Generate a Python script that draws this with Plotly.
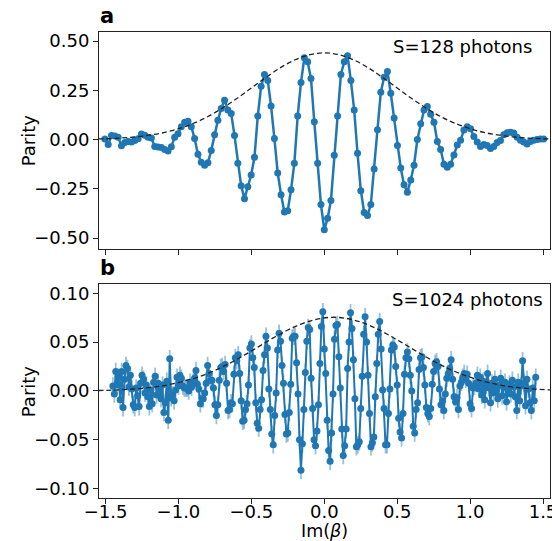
import plotly.graph_objects as go

# ---------------- data ----------------
x_top = [-1.5048, -1.482, -1.4592, -1.4364, -1.4136, -1.3908, -1.368, -1.3452, -1.3224, -1.2996,
         -1.2768, -1.254, -1.2312, -1.2084, -1.1856, -1.1628, -1.14, -1.1172, -1.0944, -1.0716,
         -1.0488, -1.026, -1.0032, -0.9804, -0.9576, -0.9348, -0.912, -0.8892, -0.8664, -0.8436,
         -0.8208, -0.798, -0.7752, -0.7524, -0.7296, -0.7068, -0.684, -0.6612, -0.6384, -0.6156,
         -0.5928, -0.57, -0.5472, -0.5244, -0.5016, -0.4788, -0.456, -0.4332, -0.4104, -0.3876,
         -0.3648, -0.342, -0.3192, -0.2964, -0.2736, -0.2508, -0.228, -0.2052, -0.1824, -0.1596,
         -0.1368, -0.114, -0.0912, -0.0684, -0.0456, -0.0228, 0.0,
         0.0228, 0.0456, 0.0684, 0.0912, 0.114, 0.1368, 0.1596, 0.1824, 0.2052, 0.228,
         0.2508, 0.2736, 0.2964, 0.3192, 0.342, 0.3648, 0.3876, 0.4104, 0.4332, 0.456,
         0.4788, 0.5016, 0.5244, 0.5472, 0.57, 0.5928, 0.6156, 0.6384, 0.6612, 0.684,
         0.7068, 0.7296, 0.7524, 0.7752, 0.798, 0.8208, 0.8436, 0.8664, 0.8892, 0.912,
         0.9348, 0.9576, 0.9804, 1.0032, 1.026, 1.0488, 1.0716, 1.0944, 1.1172, 1.14,
         1.1628, 1.1856, 1.2084, 1.2312, 1.254, 1.2768, 1.2996, 1.3224, 1.3452, 1.368,
         1.3908, 1.4136, 1.4364, 1.4592, 1.482, 1.5048]

parity_top = [0.003, -0.025, 0.020, 0.018, 0.012, -0.032, -0.015, -0.010, -0.012, -0.005,
              0.004, 0.028, 0.022, 0.012, 0.008, -0.035, -0.038, -0.040, -0.050, -0.058,
              -0.036, 0.012, 0.030, 0.065, 0.088, 0.093, 0.065, 0.005, -0.075, -0.115,
              -0.130, -0.118, -0.055, 0.025, 0.098, 0.158, 0.200, 0.150, 0.132, 0.020,
              -0.120, -0.235, -0.300, -0.240, -0.180, -0.090, 0.120, 0.270, 0.330, 0.300,
              0.170, 0.005, -0.170, -0.280, -0.368, -0.362, -0.255, -0.120, 0.120, 0.290,
              0.415, 0.395, 0.310, 0.090, -0.120, -0.330, -0.458,
              -0.400, -0.310, -0.080, 0.120, 0.330, 0.395, 0.425, 0.300, 0.150, -0.070,
              -0.260, -0.370, -0.385, -0.330, -0.150, 0.050, 0.240, 0.316, 0.345, 0.235,
              0.110, -0.030, -0.145, -0.230, -0.267, -0.205, -0.130, 0.000, 0.080, 0.150,
              0.168, 0.128, 0.088, -0.010, -0.050, -0.125, -0.140, -0.125, -0.078, -0.028,
              -0.003, 0.048, 0.065, 0.055, 0.015, -0.012, -0.035, -0.025, -0.030, -0.045,
              -0.035, -0.015, -0.005, 0.025, 0.035, 0.037, 0.033, 0.012, -0.004, -0.012,
              -0.022, -0.010, -0.003, 0.000, 0.003, 0.003]

x_bot = [-1.45, -1.44, -1.43, -1.42, -1.41, -1.40, -1.39, -1.38, -1.37, -1.36,
         -1.35, -1.34, -1.33, -1.32, -1.31, -1.30, -1.29, -1.28, -1.27, -1.26,
         -1.25, -1.24, -1.23, -1.22, -1.21, -1.20, -1.19, -1.18, -1.17, -1.16,
         -1.15, -1.14, -1.13, -1.12, -1.11, -1.10, -1.09, -1.08, -1.07, -1.06,
         -1.05, -1.04, -1.03, -1.02, -1.01, -1.00, -0.99, -0.98, -0.97, -0.96,
         -0.95, -0.94, -0.93, -0.92, -0.91, -0.90, -0.89, -0.88, -0.87, -0.86,
         -0.85, -0.84, -0.83, -0.82, -0.81, -0.80, -0.79, -0.78, -0.77, -0.76,
         -0.75, -0.74, -0.73, -0.72, -0.71, -0.70, -0.69, -0.68, -0.67, -0.66,
         -0.65, -0.64, -0.63, -0.62, -0.61, -0.60, -0.59, -0.58, -0.57, -0.56,
         -0.55, -0.54, -0.53, -0.52, -0.51, -0.50, -0.49, -0.48, -0.47, -0.46,
         -0.45, -0.44, -0.43, -0.42, -0.41, -0.40, -0.39, -0.38, -0.37, -0.36,
         -0.35, -0.34, -0.33, -0.32, -0.31, -0.30, -0.29, -0.28, -0.27, -0.26,
         -0.25, -0.24, -0.23, -0.22, -0.21, -0.20, -0.19, -0.18, -0.17, -0.16,
         -0.15, -0.14, -0.13, -0.12, -0.11, -0.10, -0.09, -0.08, -0.07, -0.06,
         -0.05, -0.04, -0.03, -0.02, -0.01, 0.00, 0.01, 0.02, 0.03, 0.04,
         0.05, 0.06, 0.07, 0.08, 0.09, 0.10, 0.11, 0.12, 0.13, 0.14,
         0.15, 0.16, 0.17, 0.18, 0.19, 0.20, 0.21, 0.22, 0.23, 0.24,
         0.25, 0.26, 0.27, 0.28, 0.29, 0.30, 0.31, 0.32, 0.33, 0.34,
         0.35, 0.36, 0.37, 0.38, 0.39, 0.40, 0.41, 0.42, 0.43, 0.44,
         0.45, 0.46, 0.47, 0.48, 0.49, 0.50, 0.51, 0.52, 0.53, 0.54,
         0.55, 0.56, 0.57, 0.58, 0.59, 0.60, 0.61, 0.62, 0.63, 0.64,
         0.65, 0.66, 0.67, 0.68, 0.69, 0.70, 0.71, 0.72, 0.73, 0.74,
         0.75, 0.76, 0.77, 0.78, 0.79, 0.80, 0.81, 0.82, 0.83, 0.84,
         0.85, 0.86, 0.87, 0.88, 0.89, 0.90, 0.91, 0.92, 0.93, 0.94,
         0.95, 0.96, 0.97, 0.98, 0.99, 1.00, 1.01, 1.02, 1.03, 1.04,
         1.05, 1.06, 1.07, 1.08, 1.09, 1.10, 1.11, 1.12, 1.13, 1.14,
         1.15, 1.16, 1.17, 1.18, 1.19, 1.20, 1.21, 1.22, 1.23, 1.24,
         1.25, 1.26, 1.27, 1.28, 1.29, 1.30, 1.31, 1.32, 1.33, 1.34,
         1.35, 1.36, 1.37, 1.38, 1.39, 1.40, 1.41, 1.42, 1.43, 1.44,
         1.45]

parity_bot = [0.005, -0.003, 0.020, 0.006, 0.014, -0.009, 0.020, -0.017, 0.012, 0.026,
              0.023, 0.004, 0.016, 0.002, -0.014, -0.017, 0.003, -0.005, -0.016, 0.008,
              0.016, 0.012, -0.002, 0.006, -0.006, -0.016, 0.001, -0.013, 0.009, 0.015,
              -0.004, 0.008, 0.002, -0.008, 0.006, -0.022, -0.012, 0.010, -0.030, 0.033,
              -0.007, -0.004, -0.010, 0.001, 0.014, 0.005, 0.016, 0.013, 0.005, 0.003,
              0.003, 0.003, 0.000, 0.009, 0.004, 0.009, 0.013, 0.021, 0.007, 0.002,
              -0.013, -0.008, -0.008, -0.002, 0.008, 0.026, 0.018, 0.011, 0.011, 0.003,
              -0.014, -0.025, -0.014, 0.011, 0.024, 0.025, 0.020, 0.027, 0.008, -0.020,
              -0.019, -0.012, -0.013, 0.017, 0.034, 0.031, 0.037, 0.018, -0.010, -0.031,
              -0.030, -0.019, -0.013, 0.006, 0.044, 0.048, 0.034, 0.024, -0.012, -0.033,
              -0.038, -0.019, -0.009, 0.021, 0.037, 0.056, 0.044, 0.002, -0.019, -0.044,
              -0.055, -0.025, -0.002, 0.042, 0.059, 0.051, 0.026, 0.008, -0.024, -0.044,
              -0.043, -0.022, 0.007, 0.054, 0.056, 0.056, 0.029, -0.003, -0.050, -0.081,
              -0.054, -0.019, 0.019, 0.051, 0.065, 0.063, 0.013, -0.018, -0.050, -0.056,
              -0.041, -0.014, 0.028, 0.066, 0.081, 0.043, 0.018, -0.030, -0.061, -0.072,
              -0.043, -0.003, 0.053, 0.067, 0.068, 0.035, 0.003, -0.039, -0.066, -0.056,
              -0.039, 0.023, 0.050, 0.080, 0.064, 0.032, -0.008, -0.057, -0.055, -0.052,
              -0.018, 0.015, 0.058, 0.076, 0.050, 0.016, -0.023, -0.057, -0.053, -0.047,
              -0.006, 0.028, 0.058, 0.071, 0.043, 0.001, -0.018, -0.055, -0.055, -0.023,
              0.002, 0.042, 0.047, 0.045, 0.025, 0.006, -0.028, -0.042, -0.048, -0.023,
              0.017, 0.034, 0.040, 0.033, 0.016, 0.000, -0.036, -0.043, -0.019, -0.012,
              0.022, 0.034, 0.035, 0.024, 0.006, -0.017, -0.023, -0.026, -0.018, 0.007,
              0.020, 0.028, 0.030, 0.025, 0.002, -0.014, -0.010, -0.020, -0.003, 0.013,
              0.018, 0.023, 0.032, 0.012, -0.006, -0.011, -0.007, -0.019, 0.005, 0.009,
              0.014, 0.018, 0.012, 0.017, 0.008, -0.013, -0.018, 0.003, 0.005, 0.008,
              0.016, 0.002, 0.014, -0.004, 0.010, -0.009, 0.006, 0.018, 0.003, -0.012,
              0.008, -0.002, 0.012, 0.001, -0.008, 0.006, 0.013, -0.005, 0.004, 0.009,
              -0.011, 0.002, 0.007, -0.003, 0.011, 0.004, -0.006, -0.020, 0.009, -0.010,
              0.005, 0.031, 0.008, -0.015, 0.012, 0.002, -0.012, -0.020, 0.003, -0.010,
              0.014]

err_bot = 0.009

env_top_x = [-1.55, -1.5, -1.4, -1.3, -1.2, -1.1, -1.0, -0.9, -0.8, -0.7, -0.6, -0.5,
             -0.4, -0.3, -0.2, -0.1, 0.0, 0.1, 0.2, 0.3, 0.4, 0.5, 0.6, 0.7, 0.8,
             0.9, 1.0, 1.1, 1.2, 1.3, 1.4, 1.5, 1.55]
env_top_y = [0.003, 0.0041, 0.0074, 0.013, 0.022, 0.0354, 0.055, 0.0815, 0.116, 0.159, 0.208, 0.262,
             0.315, 0.365, 0.405, 0.431, 0.440, 0.431, 0.405, 0.365, 0.315, 0.262, 0.208, 0.159, 0.116,
             0.0815, 0.055, 0.0354, 0.022, 0.013, 0.0074, 0.0041, 0.003]

env_bot_x = [-1.55, -1.45, -1.35, -1.25, -1.15, -1.05, -0.95, -0.85, -0.75, -0.65, -0.55,
             -0.45, -0.35, -0.25, -0.15, -0.05, 0.05, 0.15, 0.25, 0.35, 0.45, 0.55,
             0.65, 0.75, 0.85, 0.95, 1.05, 1.15, 1.25, 1.35, 1.45, 1.55]
env_bot_y = [0.0005, 0.0009, 0.0016, 0.0027, 0.0044, 0.0069, 0.0105, 0.0151, 0.0211, 0.0283, 0.0365,
             0.0454, 0.0543, 0.0624, 0.0690, 0.0735, 0.0754, 0.0743, 0.0705, 0.0644, 0.0566, 0.0479,
             0.0390, 0.0305, 0.0230, 0.0167, 0.0117, 0.0078, 0.0050, 0.0031, 0.0019, 0.0011]

x_ticks = [-1.5, -1.0, -0.5, 0.0, 0.5, 1.0, 1.5]
x_ticktext = ["\u22121.5", "\u22121.0", "\u22120.5", "0.0", "0.5", "1.0", "1.5"]
y_top_ticks = [-0.5, -0.25, 0.0, 0.25, 0.5]
y_top_ticktext = ["\u22120.50", "\u22120.25", "0.00", "0.25", "0.50"]
y_bot_ticks = [-0.10, -0.05, 0.0, 0.05, 0.10]
y_bot_ticktext = ["\u22120.10", "\u22120.05", "0.00", "0.05", "0.10"]

# ---------------- figure ----------------
BLUE = "#1f77b4"
FONT = "DejaVu Sans"
FS = 18

fig = go.Figure()

fig.add_trace(go.Scatter(
    x=x_top, y=parity_top, mode="lines+markers",
    line=dict(color=BLUE, width=2.5),
    marker=dict(color=BLUE, size=7, line=dict(width=0)),
    xaxis="x", yaxis="y", showlegend=False, hoverinfo="skip"))
fig.add_trace(go.Scatter(
    x=env_top_x, y=env_top_y, mode="lines",
    line=dict(color="#222222", width=1.3, dash="5px,3px", shape="spline"),
    xaxis="x", yaxis="y", showlegend=False, hoverinfo="skip"))

fig.add_trace(go.Scatter(
    x=x_bot, y=parity_bot, mode="lines+markers",
    line=dict(color=BLUE, width=2),
    marker=dict(color=BLUE, size=7, line=dict(width=0)),
    error_y=dict(type="constant", value=err_bot, color="rgba(31,119,180,0.45)",
                 thickness=1.8, width=0),
    xaxis="x2", yaxis="y2", showlegend=False, hoverinfo="skip"))
fig.add_trace(go.Scatter(
    x=env_bot_x, y=env_bot_y, mode="lines",
    line=dict(color="#222222", width=1.3, dash="5px,3px", shape="spline"),
    xaxis="x2", yaxis="y2", showlegend=False, hoverinfo="skip"))

axis_common = dict(showline=True, mirror=True, linecolor="#222222", linewidth=1,
                   ticks="outside", ticklen=5, tickwidth=1, tickcolor="#222222",
                   showgrid=False, zeroline=False,
                   tickfont=dict(family=FONT, size=FS, color="black"))
XR = [-1.545, 1.548]

fig.update_layout(
    width=552, height=541,
    margin=dict(l=99, r=2, t=32, b=43, autoexpand=False),
    paper_bgcolor="white", plot_bgcolor="white",
    font=dict(family=FONT, size=FS, color="black"),
    showlegend=False,
    xaxis=dict(domain=[0, 1], anchor="y", range=XR, tickvals=x_ticks,
               showticklabels=False, **axis_common),
    yaxis=dict(domain=[0.535, 1], anchor="x", range=[-0.554, 0.546],
               tickvals=y_top_ticks, ticktext=y_top_ticktext, **axis_common),
    xaxis2=dict(domain=[0, 1], anchor="y2", range=XR, tickvals=x_ticks,
                ticktext=x_ticktext, ticklabelstandoff=-8, ticklabeloverflow="allow",
                automargin=False, **axis_common),
    yaxis2=dict(domain=[0, 0.4593], anchor="x2", range=[-0.1095, 0.1095],
                tickvals=y_bot_ticks, ticktext=y_bot_ticktext, **axis_common),
)

ann = [
    dict(text="S=128 photons", x=0.9645, y=0.968, xanchor="right", yanchor="middle"),
    dict(text="S=1024 photons", x=0.989, y=0.425, xanchor="right", yanchor="middle"),
    dict(text="<b>a</b>", x=-0.002, y=1.034, xanchor="left", yanchor="middle",
         font=dict(family=FONT, size=21, color="black")),
    dict(text="<b>b</b>", x=-0.002, y=0.4936, xanchor="left", yanchor="middle",
         font=dict(family=FONT, size=21, color="black")),
    dict(text="Parity", x=-0.157, y=0.768, xanchor="center", yanchor="middle", textangle=-90),
    dict(text="Parity", x=-0.157, y=0.2296, xanchor="center", yanchor="middle", textangle=-90),
    dict(text="Im(<i>\u03b2</i>)", x=0.499, y=-0.0705, xanchor="center", yanchor="middle",
         font=dict(family=FONT, size=17.5, color="black")),
]
for a in ann:
    a.setdefault("font", dict(family=FONT, size=FS, color="black"))
    fig.add_annotation(xref="paper", yref="paper", showarrow=False, **a)

fig.write_html("out.html",
               config={"displayModeBar": False},
               post_script="document.body.style.margin='0';document.body.style.overflow='hidden';")
